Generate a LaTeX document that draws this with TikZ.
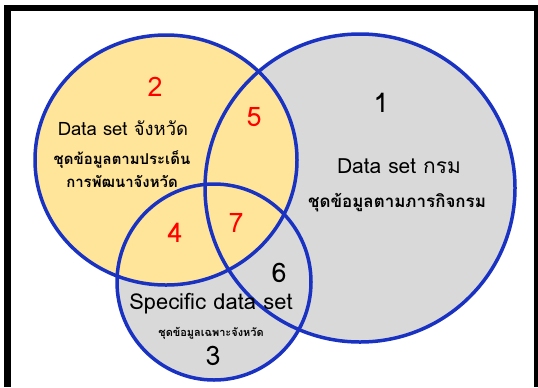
\documentclass[tikz,border=0pt]{standalone}
\usepackage{fontspec}
\setmainfont[Script=Thai]{Loma}
\usepackage{tikz}
\usetikzlibrary{positioning,shapes.geometric}
\definecolor{setblue}{HTML}{1A32C2}
\definecolor{setyellow}{HTML}{FFE599}
\definecolor{setgray}{HTML}{D9D9D9}
\definecolor{numred}{HTML}{FF0000}

\begin{document}
\begin{tikzpicture}
  [
      x=1bp, y=-1bp,
      set/.style={ellipse, fill=#1, inner sep=0pt},
      ring/.style={draw=setblue, line width=3.5bp},
      num/.style={font=\fontsize{27}{27}\selectfont, text=#1},
      title/.style={font=\fontsize{#1}{#1}\selectfont},
      sub/.style={font=\bfseries\fontsize{#1}{#1}\selectfont},
    ]

    % frame
    \fill [black] (4,5) rectangle (538,387);
    \fill [white] (11,11) rectangle (534,387);
    \useasboundingbox (0,0) rectangle (538,387);

    % sets
    \node (dept) [set=setgray, minimum width=310bp, minimum height=308bp] at (360,188) {};
    \node (spec) [set=setgray, minimum width=194bp, minimum height=196bp] at (214,282) {};
    \node (prov) [set=setyellow, minimum width=262bp, minimum height=250bp] at (166,160) {};

    \draw [ring] (dept.center) ellipse [x radius=155, y radius=154];
    \draw [ring] (spec.center) ellipse [x radius=97, y radius=98];
    \draw [ring] (prov.center) ellipse [x radius=131, y radius=125];

    % labels
    \node (n2) [num=numred] at (155,87) {2};
    \node (provname) [title=18.5] at (123,128) {Data set จังหวัด};
    \node (provsub) [sub=15, align=center] at (122,169) {ชุดข้อมูลตามประเด็น\\[6bp]การพัฒนาจังหวัด};

    \node (n1) [num=black] at (381,103) {1};
    \node (deptname) [title=21] at (399,166) {Data set กรม};
    \node (deptsub) [sub=17] at (397,203) {ชุดข้อมูลตามภารกิจกรม};

    \node (n5) [num=numred] at (254,117) {5};
    \node (n4) [num=numred] at (175,233) {4};
    \node (n7) [num=numred] at (236,223) {7};
    \node (n6) [num=black] at (279,273) {6};

    \node (specname) [title=22] at (211,304) {Specific data set};
    \node (specsub) [sub=11] at (211,333) {ชุดข้อมูลเฉพาะจังหวัด};
    \node (n3) [num=black] at (213,356) {3};

  \end{tikzpicture}
\end{document}
